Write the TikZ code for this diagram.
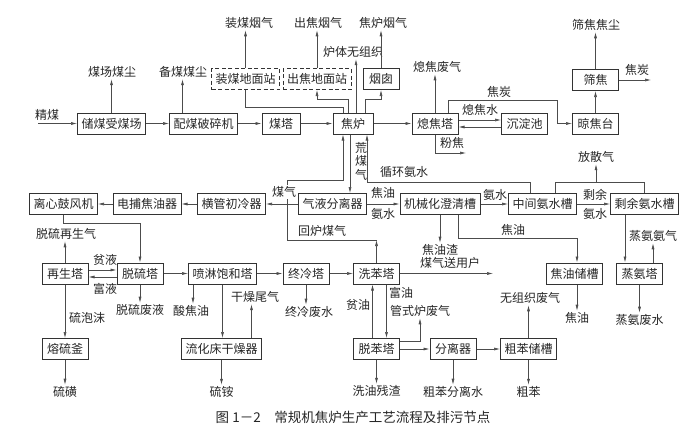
\documentclass[tikz,border=0pt]{standalone}
\usepackage{fontspec}
\setmainfont{Noto Sans CJK SC}
\usetikzlibrary{arrows.meta, positioning, calc}

\begin{document}
\begin{tikzpicture}[x=1pt, y=-1pt,
    font=\fontsize{12}{14}\selectfont, text=black!85,
    box/.style={draw=black!80, line width=1pt, minimum height=21pt, minimum width=46pt, inner xsep=4pt},
    dbox/.style={box, dash pattern=on 4pt off 2.5pt},
    lab/.style={inner sep=1.5pt},
    line/.style={draw=black!70, line width=0.6pt},
    arr/.style={line, -{Latex[length=6pt, width=3pt]}}]
    \useasboundingbox (0,0) rectangle (695,439);

    % boxes
    \node[box] (ccmc) at (111.5,123.5) {储煤受煤场};
    \node[box] (pmps) at (203.5,123.5) {配煤破碎机};
    \node[box, minimum width=38pt] (mt) at (281,123.5) {煤塔};
    \node[box, minimum width=40pt] (jl) at (353,123.5) {焦炉};
    \node[box] (xjt) at (435,123.5) {熄焦塔};
    \node[box] (cdc) at (524.5,123.5) {沉淀池};
    \node[box] (ljt) at (595.5,123.5) {晾焦台};
    \node[box] (sj) at (595.5,80) {筛焦};
    \node[dbox] (zmdm) at (245.5,79) {装煤地面站};
    \node[dbox] (cjdm) at (317,79) {出焦地面站};
    \node[box, minimum width=36pt] (yc) at (381,79) {烟囱};

    \node[box] (lxgf) at (63.5,204) {离心鼓风机};
    \node[box] (dbjy) at (147,204) {电捕焦油器};
    \node[box] (hgcl) at (231.5,204) {横管初冷器};
    \node[box] (qyfl) at (332.5,204) {气液分离器};
    \node[box] (jxcq) at (440,204) {机械化澄清槽};
    \node[box] (zjas) at (542.5,204) {中间氨水槽};
    \node[box] (syas) at (644.5,204) {剩余氨水槽};

    \node[box] (zst) at (65,273.5) {再生塔};
    \node[box] (tlt) at (140,273.5) {脱硫塔};
    \node[box] (plbh) at (222.5,273.5) {喷淋饱和塔};
    \node[box] (zlt) at (306,273.5) {终冷塔};
    \node[box] (xbt) at (376.5,273.5) {洗苯塔};
    \node[box] (jycc) at (574.5,273.5) {焦油储槽};
    \node[box] (zat) at (639.5,273.5) {蒸氨塔};

    \node[box] (rlf) at (65,349) {熔硫釜};
    \node[box] (lhc) at (221.5,349) {流化床干燥器};
    \node[box] (tbt) at (376.5,349) {脱苯塔};
    \node[box] (flq) at (453,349) {分离器};
    \node[box] (cbcc) at (528.5,349) {粗苯储槽};

    % labels
    \node[lab] (zmyq) at (249,23) {装煤烟气};
    \node[lab] (cjyq) at (318,23) {出焦烟气};
    \node[lab] (jlyq) at (383,23) {焦炉烟气};
    \node[lab] (ltwzz) at (353,52) {炉体无组织};
    \node[lab] (mcmc) at (112,72) {煤场煤尘};
    \node[lab] (bmmc) at (183,72) {备煤煤尘};
    \node[lab] (jm) at (47,115) {精煤};
    \coordinate (jmin) at (38,123.5);
    \node[lab] (xjfq) at (437,67) {熄焦废气};
    \node[lab] (jt1) at (499,92) {焦炭};
    \node[lab] (xjs) at (480,110) {熄焦水};
    \node[lab] (fj) at (452,143) {粉焦};
    \coordinate (fjend) at (466,153);
    \node[lab] (sjjc) at (596,25) {筛焦焦尘};
    \node[lab] (jt2) at (637,70) {焦炭};
    \coordinate (jtend) at (651,80);

    \node[lab, align=center, font=\fontsize{12}{13.5}\selectfont] (hmq) at (361,161) {荒\\煤\\气};
    \node[lab] (xhas) at (404,172) {循环氨水};
    \node[lab] (jy1) at (383,193) {焦油};
    \node[lab] (as1) at (383,214) {氨水};
    \node[lab] (as2) at (495,195) {氨水};
    \node[lab] (sy) at (595,195) {剩余};
    \node[lab] (as3) at (595,214) {氨水};
    \node[lab] (fsq) at (596,157) {放散气};
    \coordinate (fs0) at (596,182);
    \node[lab] (hlmq) at (322,231) {回炉煤气};
    \node[lab] (jyz) at (440,250) {焦油渣};
    \node[lab] (jy2) at (513,230) {焦油};
    \node[lab] (zaaq) at (653,236) {蒸氨氨气};
    \coordinate (hl1) at (376.5,240);
    \coordinate (hl2) at (287,180);

    \node[lab] (tlzs) at (66,234) {脱硫再生气};
    \node[lab] (py) at (105,260) {贫液};
    \node[lab] (fy) at (105,289) {富液};
    \node[lab] (tlfy) at (140,310) {脱硫废液};
    \node[lab] (sjy) at (191,311) {酸焦油};
    \node[lab] (gzwq) at (255,297) {干燥尾气};
    \node[lab] (zlfs) at (309,312) {终冷废水};
    \node[lab] (pyo) at (358,305) {贫油};
    \node[lab] (fyo) at (401,293) {富油};
    \node[lab] (gslfq) at (420,311) {管式炉废气};
    \node[lab] (mqsy) at (450,263) {煤气送用户};
    \coordinate (mqend) at (493,273.5);
    \node[lab] (jy3) at (577,318) {焦油};
    \node[lab] (zafs) at (639.5,320) {蒸氨废水};
    \node[lab] (wzzfq) at (530,298) {无组织废气};
    \node[lab] (lpm) at (87,318) {硫泡沫};

    \node[lab] (lh) at (65,392) {硫磺};
    \node[lab] (la) at (221.5,392) {硫铵};
    \node[lab] (xycz) at (376.5,391) {洗油残渣};
    \node[lab] (cbfls) at (453,392) {粗苯分离水};
    \node[lab] (cb) at (528.5,392) {粗苯};

    % first row connectors
    \draw[arr] (jmin) -- (ccmc.west);
    \draw[arr] (ccmc) -- (pmps);
    \draw[arr] (pmps) -- (mt);
    \draw[arr] (mt) -- (jl);
    \draw[arr] (jl) -- (xjt);
    \draw[arr] (ccmc.north) -- (ccmc.north |- mcmc.south);
    \draw[arr] ([xshift=-21pt]pmps.north) -- ([xshift=-21pt]pmps.north |- bmmc.south);
    \draw[line] (zmdm.south) -- ++(0,17) -| ([xshift=-10pt]jl.north);
    \draw[arr] ([xshift=-5pt]jl.north) -- ++(0,-13) -| (cjdm.south);
    \draw[arr] ([xshift=3pt]jl.north) -- ([xshift=3pt]jl.north |- ltwzz.south);
    \draw[arr] ([xshift=12pt]jl.north) -- ++(0,-13) -| (yc.south);
    \draw[arr] (zmdm.north) -- (zmdm.north |- zmyq.south);
    \draw[arr] (cjdm.north) -- (cjdm.north |- cjyq.south);
    \draw[arr] (yc.north) -- (yc.north |- jlyq.south);
    \draw[arr] (xjt.north) -- (xjt.north |- xjfq.south);
    \draw[arr] ([xshift=13pt]xjt.north) -- ++(0,-12) -| ([xshift=-15pt]ljt.west) -- (ljt.west);
    \draw[arr] ([yshift=3.5pt]xjt.east) -- ([yshift=3.5pt]cdc.west);
    \draw[arr] ([yshift=-3.5pt]cdc.west) -- ([yshift=-3.5pt]xjt.east);
    \draw[arr] (xjt.south) |- (fjend);
    \draw[arr] (ljt) -- (sj);
    \draw[arr] (sj.north) -- (sj.north |- sjjc.south);
    \draw[arr] (sj.east) -- (jtend);

    % second row connectors
    \draw[arr] (hgcl) -- (dbjy);
    \draw[arr] (dbjy) -- (lxgf);
    \draw[arr] (qyfl) -- (hgcl);
    \draw[arr] (qyfl) -- (jxcq);
    \draw[arr] (jxcq) -- (zjas);
    \draw[arr] (zjas) -- (syas);
    \draw[arr] ([xshift=-3pt]jl.south) -- ([xshift=-3pt]jl.south |- qyfl.north);
    \draw[arr] ([xshift=-12.5pt]zjas.north) -- ++(0,-11) -| ([xshift=14pt]jl.south);
    \draw[line] ([xshift=12.5pt]zjas.north) -- ++(0,-11) -| (syas.north);
    \draw[arr] (fs0) -- (fsq.south);
    \draw[arr] (jxcq.south) -- (jxcq.south |- jyz.north);
    \draw[arr] ([xshift=18pt]jxcq.south) -- ++(0,23) -| ([xshift=2.5pt]jycc.north);
    \draw[arr] ([xshift=-19.5pt]syas.south) -- ([xshift=-19.5pt]syas.south |- zat.north);
    \draw[arr] ([xshift=13.5pt]zat.north) -- ([xshift=13.5pt]zat.north |- zaaq.south);

    % third row connectors
    \draw[arr] (lxgf.south) -- ++(0,8) -| (tlt.north);
    \draw[arr] (zst.north) -- (zst.north |- tlzs.south);
    \draw[arr] ([yshift=3.5pt]zst.east) -- ([yshift=3.5pt]tlt.west);
    \draw[arr] ([yshift=-3.5pt]tlt.west) -- ([yshift=-3.5pt]zst.east);
    \draw[arr] (tlt) -- (plbh);
    \draw[arr] (plbh) -- (zlt);
    \draw[arr] (zlt) -- (xbt);
    \draw[arr] (xbt.east) -- (mqend);
    \draw[arr] (tlt.south) -- (tlt.south |- tlfy.north);
    \draw[arr] ([xshift=-29.5pt]plbh.south) -- ([xshift=-29.5pt]plbh.south |- sjy.north);
    \draw[arr] (plbh.south) -- (plbh.south |- lhc.north);
    \draw[arr] ([xshift=30pt]lhc.north) -- ([xshift=30pt]lhc.north |- gzwq.south);
    \draw[arr] (zlt.south) -- (zlt.south |- zlfs.north);
    \draw[arr] (xbt.north) -- (hl1);
    \draw[arr] (hl1) -| (hl2) -| ([xshift=-10pt]jl.south);
    \node[lab, fill=white] (mq) at (284,192) {煤气};
    \draw[arr] ([xshift=-4pt]tbt.north) -- ([xshift=-4pt]tbt.north |- xbt.south);
    \draw[arr] ([xshift=10pt]xbt.south) -- ([xshift=10pt]xbt.south |- tbt.north);
    \draw[arr] ([xshift=2.5pt]jycc.south) -- ([xshift=2.5pt]jycc.south |- jy3.north);
    \draw[arr] (zat.south) -- (zat.south |- zafs.north);
    \draw[arr] (zst.south) -- (rlf.north);

    % fourth row connectors
    \draw[arr] ([yshift=8pt]tbt.east) -| (gslfq.south);
    \draw[arr] (tbt) -- (flq);
    \draw[arr] (flq) -- (cbcc);
    \draw[arr] (tbt.south) -- (tbt.south |- xycz.north);
    \draw[arr] (flq.south) -- (flq.south |- cbfls.north);
    \draw[arr] (cbcc.north) -- (cbcc.north |- wzzfq.south);
    \draw[arr] (cbcc.south) -- (cbcc.south |- cb.north);
    \draw[arr] (rlf.south) -- (rlf.south |- lh.north);
    \draw[arr] (lhc.south) -- (lhc.south |- la.north);

    \node[lab, font=\fontsize{13.5}{15}\selectfont] (cap) at (353,417) {图 1－2\quad 常规机焦炉生产工艺流程及排污节点};
\end{tikzpicture}
\end{document}
